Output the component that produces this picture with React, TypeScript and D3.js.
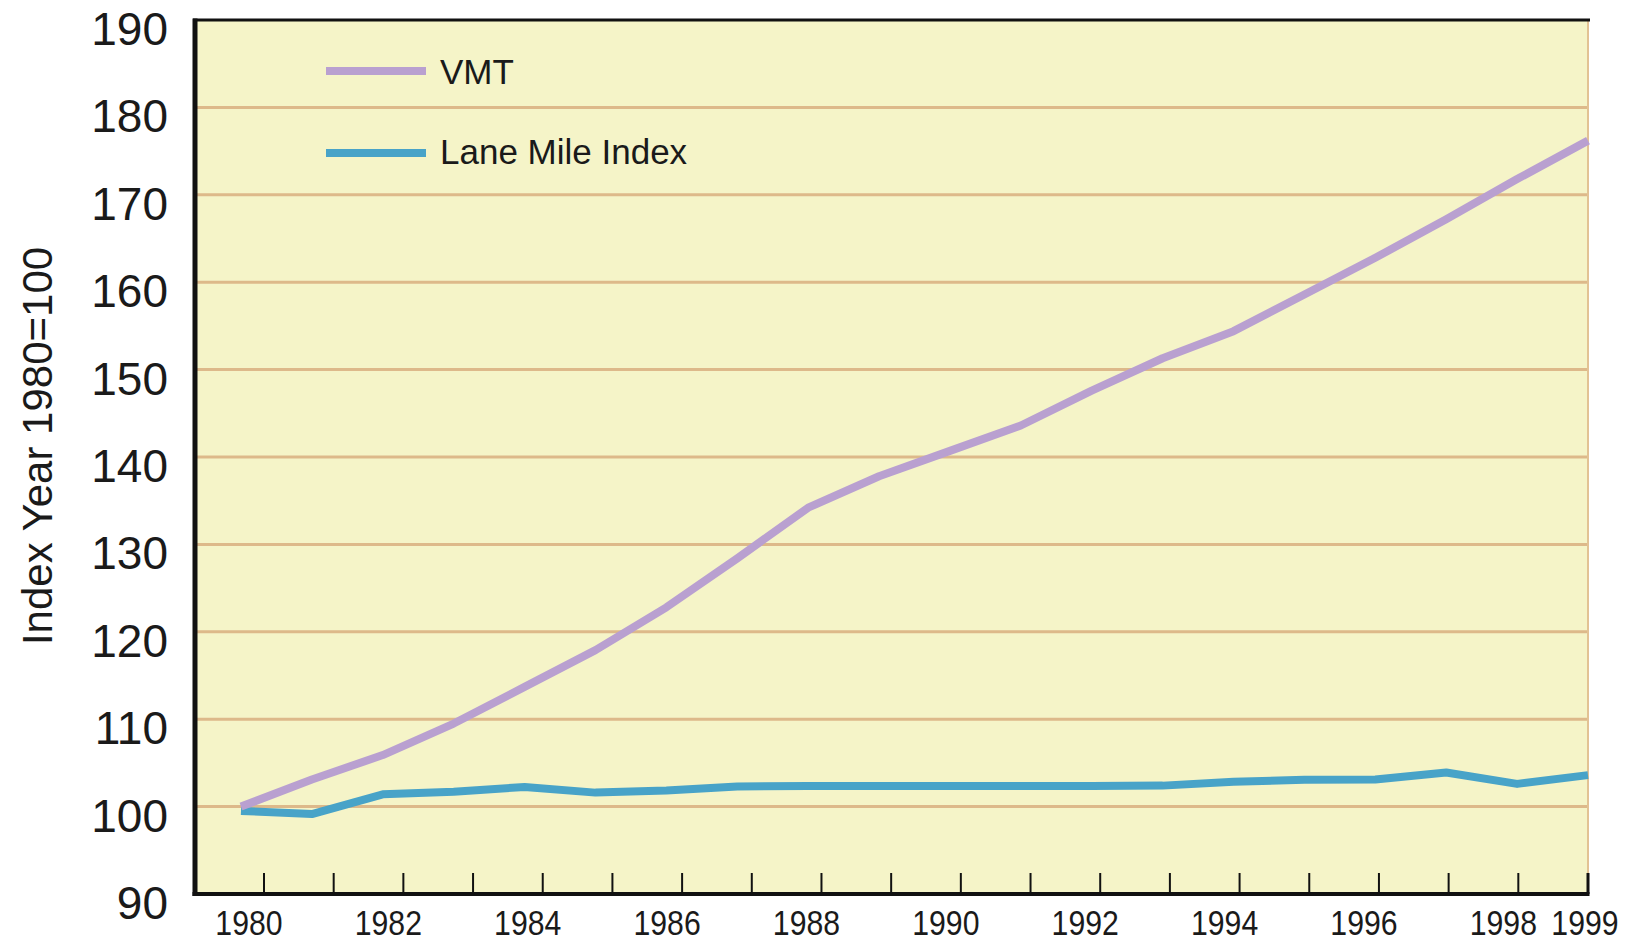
import React from "react";
import * as d3 from "d3";

const years = [1980,1981,1982,1983,1984,1985,1986,1987,1988,1989,1990,1991,1992,1993,1994,1995,1996,1997,1998,1999];
const vmt = [100,103.1,105.9,109.5,113.7,117.9,122.8,128.4,134.2,137.8,140.7,143.6,147.6,151.3,154.4,158.6,162.8,167.2,171.8,176.2];
const laneMiles = [99.5,99.15,101.4,101.7,102.25,101.6,101.85,102.3,102.35,102.35,102.35,102.35,102.35,102.4,102.85,103.06,103.1,103.9,102.6,103.6];
const yTicks = [90,100,110,120,130,140,150,160,170,180,190];
const xLabelYears = [1980,1982,1984,1986,1988,1990,1992,1994,1996,1998,1999];
const seriesNames = ["VMT", "Lane Mile Index"];
const yTitle = "Index Year 1980=100";

const W = 1629, H = 942;
const left = 195, right = 1588, top = 20, bottom = 894;
const colors = ["#B9A0D0", "#48A3C8"];

export default function App() {
  const y = d3.scaleLinear().domain([90, 190]).range([bottom, top]);
  const xTick = d3.scaleLinear().domain([1980, 1999]).range([264, right]);
  const xData = d3.scaleLinear().domain([1980, 1999]).range([241, right]);
  const line = d3.line<number>().x((_, i) => xData(years[i])).y((d) => y(d));
  const font = "'Liberation Sans', Arial, Helvetica, sans-serif";
  return (
    <svg width={W} height={H} style={{ position: "absolute", left: 0, top: 0, background: "#fff" }}>
      <rect x={left} y={top} width={right - left} height={bottom - top} fill="#F5F4C8" />
      {yTicks.filter((t) => t > 90 && t < 190).map((t) => (
        <line key={t} x1={left} x2={right} y1={y(t)} y2={y(t)} stroke="#DDB98A" strokeWidth={3} />
      ))}
      <line x1={right} x2={right} y1={top} y2={bottom} stroke="#E2C294" strokeWidth={2} />
      {seriesNames.map((n, i) => (
        <g key={n}>
          <line x1={326} x2={426} y1={71 + i * 82} y2={71 + i * 82} stroke={colors[i]} strokeWidth={8} />
          <text x={440} y={84 + i * 80} fontFamily={font} fontSize={35} fill="#1a1a1a">{n}</text>
        </g>
      ))}
      <path d={line(laneMiles) || ""} fill="none" stroke={colors[1]} strokeWidth={8} strokeLinejoin="round" />
      <path d={line(vmt) || ""} fill="none" stroke={colors[0]} strokeWidth={8} strokeLinejoin="round" />
      <line x1={left - 2} x2={right + 2} y1={top} y2={top} stroke="#111" strokeWidth={3} />
      <line x1={left} x2={left} y1={top - 1.5} y2={bottom + 2} stroke="#111" strokeWidth={5} />
      <line x1={left - 2.5} x2={right + 1.5} y1={bottom} y2={bottom} stroke="#111" strokeWidth={4} />
      {years.map((yr) => (
        <line key={yr} x1={xTick(yr)} x2={xTick(yr)} y1={bottom} y2={bottom - 21} stroke="#111" strokeWidth={yr === 1999 ? 3 : 2} />
      ))}
      {yTicks.map((t) => (
        <text key={t} x={168} y={y(t) + 25} textAnchor="end" fontFamily={font} fontSize={46} fill="#1a1a1a">{t}</text>
      ))}
      {xLabelYears.map((yr) => (
        <text key={yr} transform={`translate(${xTick(yr) - (yr === 1999 ? 3 : 15)}, 935) scale(0.84, 1)`} textAnchor="middle" fontFamily={font} fontSize={36} fill="#1a1a1a">{yr}</text>
      ))}
      <text transform={`translate(52, 446) rotate(-90)`} textAnchor="middle" fontFamily={font} fontSize={42} fill="#1a1a1a">{yTitle}</text>
    </svg>
  );
}
